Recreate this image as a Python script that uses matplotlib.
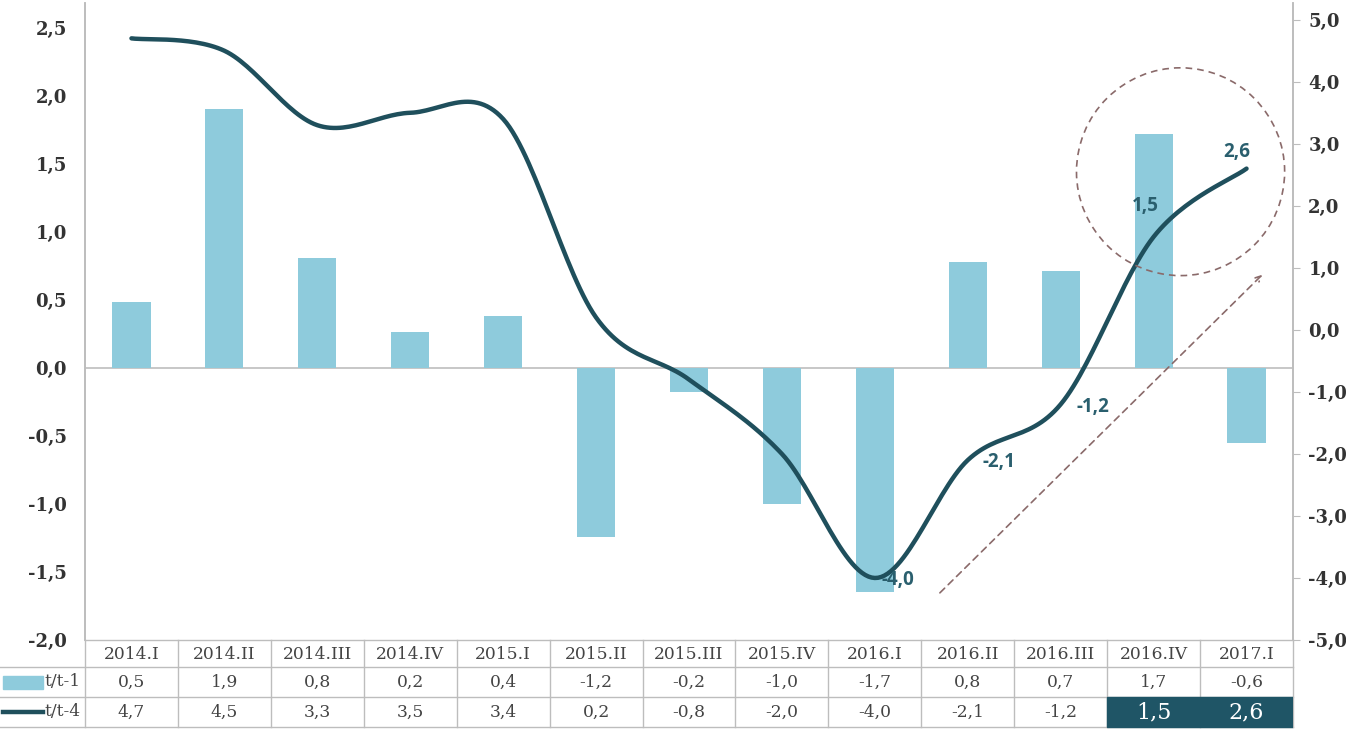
import numpy as np
import matplotlib
matplotlib.use("Agg")
import matplotlib.pyplot as plt
from matplotlib.patches import Ellipse, Rectangle

categories = ["2014.I", "2014.II", "2014.III", "2014.IV", "2015.I", "2015.II", "2015.III",
              "2015.IV", "2016.I", "2016.II", "2016.III", "2016.IV", "2017.I"]
qoq = [0.48, 1.90, 0.81, 0.26, 0.38, -1.24, -0.18, -1.00, -1.65, 0.78, 0.71, 1.72, -0.55]
yoy = [4.7, 4.5, 3.3, 3.5, 3.4, 0.2, -0.8, -2.0, -4.0, -2.1, -1.2, 1.5, 2.6]
qoq_labels = ["0,5", "1,9", "0,8", "0,2", "0,4", "-1,2", "-0,2", "-1,0", "-1,7", "0,8", "0,7", "1,7", "-0,6"]
yoy_labels = ["4,7", "4,5", "3,3", "3,5", "3,4", "0,2", "-0,8", "-2,0", "-4,0", "-2,1", "-1,2", "1,5", "2,6"]
left_ticks = [-2.0, -1.5, -1.0, -0.5, 0.0, 0.5, 1.0, 1.5, 2.0, 2.5]
right_ticks = [-5.0, -4.0, -3.0, -2.0, -1.0, 0.0, 1.0, 2.0, 3.0, 4.0, 5.0]
row_names = ["t/t-1", "t/t-4"]

BAR = "#8ecbdc"
LINE = "#1f4f5c"
HIL = "#1f5566"
GRID = "#bdbdbd"
ANN = "#8a6a6a"
TXT = "#333333"

W, H = 1346, 729
fig = plt.figure(figsize=(W / 100, H / 100), dpi=100)
x0, x1, ytop, ybot = 85, 1293, 3, 640
ax = fig.add_axes([x0 / W, 1 - ybot / H, (x1 - x0) / W, (ybot - ytop) / H])
ax2 = ax.twinx()

n = len(categories)
x = np.arange(n)
ax.bar(x, qoq, width=0.41, color=BAR, zorder=2)
ax.set_xlim(-0.5, n - 0.5)
ax.set_ylim(-2.0, 2.68)
ax2.set_ylim(-5.0, 5.27)
ax.axhline(0, color=GRID, lw=1.2, zorder=1)

# smooth line (Catmull-Rom style, like Excel smoothing)
def smooth(xs, ys, steps=30):
    xs = np.asarray(xs, float); ys = np.asarray(ys, float)
    px = np.concatenate([[xs[0]], xs, [xs[-1]]])
    py = np.concatenate([[ys[0]], ys, [ys[-1]]])
    ox, oy = [], []
    for i in range(1, len(px) - 2):
        p0 = np.array([px[i - 1], py[i - 1]]); p1 = np.array([px[i], py[i]])
        p2 = np.array([px[i + 1], py[i + 1]]); p3 = np.array([px[i + 2], py[i + 2]])
        c1 = p1 + (p2 - p0) / 6.0
        c2 = p2 - (p3 - p1) / 6.0
        t = np.linspace(0, 1, steps)[:, None]
        b = (1 - t) ** 3 * p1 + 3 * (1 - t) ** 2 * t * c1 + 3 * (1 - t) * t ** 2 * c2 + t ** 3 * p2
        ox.extend(b[:, 0]); oy.extend(b[:, 1])
    return np.array(ox), np.array(oy)

sx, sy = smooth(x, yoy)
ax2.plot(sx, sy, color=LINE, lw=3.2, solid_capstyle="round", zorder=3)

# data labels
lab_font = dict(family="Open Sans", weight="bold", size=13.5, color="#2a5f6e")
for i, off, ha in [(8, (7, -2), "left"), (9, (15, -2), "left"), (10, (16, -3), "left"),
                   (11, (-8, 31), "center"), (12, (-10, 17), "center")]:
    ax2.annotate(yoy_labels[i], (x[i], yoy[i]), xytext=off, textcoords="offset pixels",
                 ha=ha, va="center", zorder=5, **lab_font)

# dashed circle and arrow
ax2.add_patch(Ellipse((11.29, 2.55), 2.24, 3.35, fill=False, ec=ANN, lw=1.2,
                      ls=(0, (4, 3)), zorder=4))
ax2.annotate("", xy=(12.17, 0.89), xytext=(8.70, -4.24),
             arrowprops=dict(arrowstyle="->", color=ANN, lw=1.2, ls=(0, (4, 3)),
                             shrinkA=0, shrinkB=0))

# axes styling
for a in (ax, ax2):
    a.spines["top"].set_visible(False)
    a.spines["bottom"].set_visible(False)
    a.spines["left"].set_color(GRID)
    a.spines["right"].set_color(GRID)
    a.spines["left"].set_linewidth(1.2)
    a.spines["right"].set_linewidth(1.2)
ax.set_xticks([])
ax.set_yticks(left_ticks)
ax.set_yticklabels([f"{v:.1f}".replace(".", ",") for v in left_ticks])
ax.tick_params(axis="y", length=0, pad=13, labelsize=13, labelcolor=TXT)
ax2.set_yticks(right_ticks)
ax2.set_yticklabels([f"{v:.1f}".replace(".", ",") for v in right_ticks])
ax2.tick_params(axis="y", length=5, color=GRID, pad=6, labelsize=13, labelcolor=TXT)
for lab in ax.get_yticklabels() + ax2.get_yticklabels():
    lab.set_fontfamily("DejaVu Serif")
    lab.set_fontweight("bold")

# data table
tb = fig.add_axes([x0 / W, 0, (x1 - x0) / W, (H - ybot) / H])
tb.set_xlim(-0.5, n - 0.5)
tb.set_ylim(H, ybot)
tb.axis("off")
rows = [640, 667, 697, 727]
tfont = dict(family="DejaVu Serif", size=12.3, color="#444444")
u = (x1 - x0) / n  # px per category
def px2c(p):
    return -0.5 + (p - x0) / u
for r in rows:
    tb.plot([px2c(0) if r != 640 else -0.5, n - 0.5], [r, r], color=GRID, lw=1, clip_on=False)
for b in np.arange(n + 1) - 0.5:
    tb.plot([b, b], [rows[0], rows[-1]], color=GRID, lw=1, clip_on=False)
for i in range(n):
    tb.text(x[i], (rows[0] + rows[1]) / 2 + 1, categories[i], ha="center", va="center", **tfont)
    tb.text(x[i], (rows[1] + rows[2]) / 2, qoq_labels[i], ha="center", va="center", **tfont)
    if i >= 11:
        tb.add_patch(Rectangle((i - 0.5, rows[2]), 1, rows[3] - rows[2], color=HIL, zorder=3))
        tb.text(x[i], (rows[2] + rows[3]) / 2, yoy_labels[i], ha="center", va="center",
                family="DejaVu Serif", size=16, color="white", zorder=4)
    else:
        tb.text(x[i], (rows[2] + rows[3]) / 2, yoy_labels[i], ha="center", va="center", **tfont)

# row labels with legend keys
tb.add_patch(Rectangle((px2c(3), 676), px2c(43) - px2c(3), 13, color=BAR, clip_on=False))
tb.plot([px2c(3), px2c(43)], [712, 712], color=LINE, lw=3.2, clip_on=False)
tb.text(px2c(44), (rows[1] + rows[2]) / 2, row_names[0], ha="left", va="center", **tfont)
tb.text(px2c(44), (rows[2] + rows[3]) / 2, row_names[1], ha="left", va="center", **tfont)

fig.savefig("out.png", dpi=100)
